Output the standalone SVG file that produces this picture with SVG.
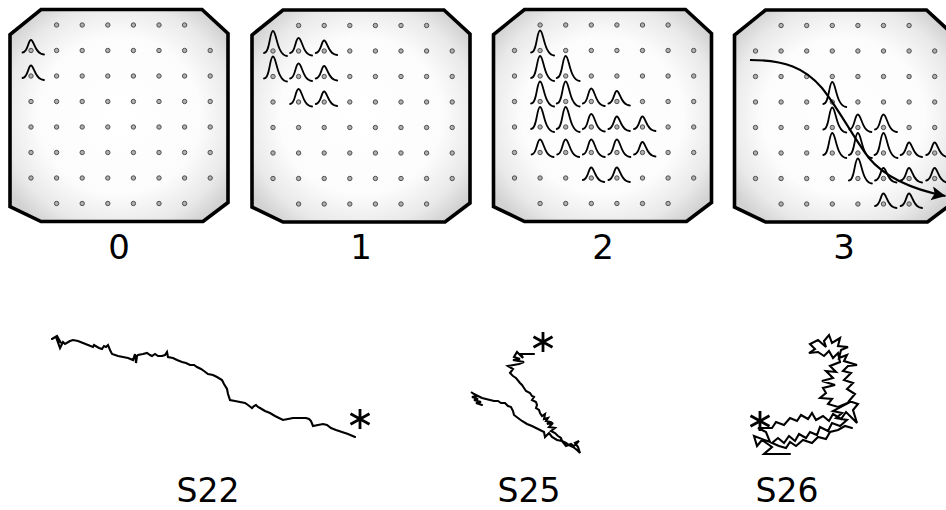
<svg xmlns="http://www.w3.org/2000/svg" width="946" height="510" viewBox="0 0 946 510">
  <style>
    .frame { fill: url(#shade); stroke: #000; stroke-width: 3.6; stroke-linejoin: miter; }
    .dot { fill: #b0b0b0; stroke: #505050; stroke-width: 1; }
    .bell { fill: none; stroke: #000; stroke-width: 1.8; stroke-linecap: round; }
    .walk { fill: none; stroke: #000; stroke-width: 2.1; stroke-linejoin: miter; stroke-miterlimit: 3; stroke-linecap: round; }
    .star { fill: none; stroke: #000; stroke-width: 2.8; stroke-linecap: butt; }
    .flow { fill: none; stroke: #000; stroke-width: 2.1; }
    .lbl { font-family: "DejaVu Sans", Verdana, sans-serif; font-size: 34px; fill: #000; text-anchor: middle; }
    .sub { font-size: 33px; }
  </style>
  <defs>
    <radialGradient id="shade" cx="50%" cy="50%" r="62%">
      <stop offset="0" stop-color="#ffffff"/>
      <stop offset="0.6" stop-color="#fcfcfc"/>
      <stop offset="0.85" stop-color="#e9e9e9"/>
      <stop offset="1" stop-color="#d2d2d2"/>
    </radialGradient>
    <!-- chamfered panel outline -->
    <path id="octa" d="M31,0 H192 L218,24 V193 L193,212 H31 L0,197 V25 Z"/>
    <!-- grid rows -->
    <g id="row8">
      <circle class="dot" cx="21" cy="0" r="2.2"/>
      <circle class="dot" cx="46.6" cy="0" r="2.2"/>
      <circle class="dot" cx="72.2" cy="0" r="2.2"/>
      <circle class="dot" cx="97.8" cy="0" r="2.2"/>
      <circle class="dot" cx="123.4" cy="0" r="2.2"/>
      <circle class="dot" cx="149" cy="0" r="2.2"/>
      <circle class="dot" cx="174.6" cy="0" r="2.2"/>
      <circle class="dot" cx="200.2" cy="0" r="2.2"/>
    </g>
    <g id="row6">
      <circle class="dot" cx="46.6" cy="0" r="2.2"/>
      <circle class="dot" cx="72.2" cy="0" r="2.2"/>
      <circle class="dot" cx="97.8" cy="0" r="2.2"/>
      <circle class="dot" cx="123.4" cy="0" r="2.2"/>
      <circle class="dot" cx="149" cy="0" r="2.2"/>
      <circle class="dot" cx="174.6" cy="0" r="2.2"/>
    </g>
    <g id="grid">
      <use href="#row6" y="15.5"/>
      <use href="#row8" y="41"/>
      <use href="#row8" y="66.5"/>
      <use href="#row8" y="92"/>
      <use href="#row8" y="117.5"/>
      <use href="#row8" y="143"/>
      <use href="#row8" y="168.5"/>
      <use href="#row6" y="194"/>
    </g>
    <!-- bell curves: tall, medium, short -->
    <path id="bT" class="bell" d="M-9,2 C-3,2 -3.5,-20 0,-20 C3.5,-20 4,4.5 14,5"/>
    <path id="bM" class="bell" d="M-8.5,2 C-3,2 -3.5,-13 0,-13 C3.5,-13 4,4 13.5,4.5"/>
    <path id="bS" class="bell" d="M-8.5,2 C-3,2 -3,-10.5 0,-10.5 C3,-10.5 4,4 13,4"/>
    <!-- end marker of a track -->
    <path id="ast" class="star" d="M0,-10 V10 M-9.5,-5.2 L9.5,5.2 M-9.5,5.2 L9.5,-5.2"/>
    <marker id="head" markerWidth="18" markerHeight="18" refX="14" refY="7" orient="auto" markerUnits="userSpaceOnUse">
      <path d="M0,0 L14,7 L0,14 L3,7 Z" fill="#000"/>
    </marker>
  </defs>

  <rect width="946" height="510" fill="#fff"/>

  <!-- step 0 -->
  <g id="panel0" transform="translate(10,9.5)">
    <use href="#octa" class="frame"/>
    <use href="#grid"/>
    <use href="#bS" x="21" y="41"/>
    <use href="#bS" x="21" y="66.5"/>
  </g>
  <text class="lbl" x="119" y="259">0</text>

  <!-- step 1 -->
  <g id="panel1" transform="translate(252,10)">
    <use href="#octa" class="frame"/>
    <use href="#grid"/>
    <use href="#bT" x="21" y="41"/>
    <use href="#bM" x="46.6" y="41"/>
    <use href="#bS" x="72.2" y="41"/>
    <use href="#bT" x="21" y="66.5"/>
    <use href="#bM" x="46.6" y="66.5"/>
    <use href="#bS" x="72.2" y="66.5"/>
    <use href="#bM" x="46.6" y="92"/>
    <use href="#bS" x="72.2" y="92"/>
  </g>
  <text class="lbl" x="361" y="259">1</text>

  <!-- step 2 -->
  <g id="panel2" transform="translate(493.5,9.5)">
    <use href="#octa" class="frame"/>
    <use href="#grid"/>
    <use href="#bT" x="46.6" y="41"/>
    <use href="#bT" x="46.6" y="66.5"/>
    <use href="#bT" x="72.2" y="66.5"/>
    <use href="#bT" x="46.6" y="92"/>
    <use href="#bT" x="72.2" y="92"/>
    <use href="#bM" x="97.8" y="92"/>
    <use href="#bS" x="123.4" y="92"/>
    <use href="#bT" x="46.6" y="117.5"/>
    <use href="#bT" x="72.2" y="117.5"/>
    <use href="#bM" x="97.8" y="117.5"/>
    <use href="#bS" x="123.4" y="117.5"/>
    <use href="#bS" x="149" y="117.5"/>
    <use href="#bM" x="46.6" y="143"/>
    <use href="#bM" x="72.2" y="143"/>
    <use href="#bM" x="97.8" y="143"/>
    <use href="#bM" x="123.4" y="143"/>
    <use href="#bS" x="149" y="143"/>
    <use href="#bS" x="97.8" y="168.5"/>
    <use href="#bS" x="123.4" y="168.5"/>
  </g>
  <text class="lbl" x="603" y="259">2</text>

  <!-- step 3 -->
  <g id="panel3" transform="translate(734.5,10)">
    <use href="#octa" class="frame"/>
    <use href="#grid"/>
    <use href="#bT" x="97.8" y="92"/>
    <use href="#bT" x="97.8" y="117.5"/>
    <use href="#bM" x="123.4" y="117.5"/>
    <use href="#bM" x="149" y="117.5"/>
    <use href="#bT" x="97.8" y="143"/>
    <use href="#bT" x="123.4" y="143"/>
    <use href="#bT" x="149" y="143"/>
    <use href="#bS" x="174.6" y="143"/>
    <use href="#bS" x="200.2" y="143"/>
    <use href="#bT" x="123.4" y="168.5"/>
    <use href="#bS" x="149" y="168.5"/>
    <use href="#bS" x="174.6" y="168.5"/>
    <use href="#bS" x="200.2" y="168.5"/>
    <use href="#bS" x="149" y="194"/>
    <use href="#bS" x="174.6" y="194"/>
    <path class="flow" marker-end="url(#head)" d="M15.5,50 C50.5,50 70.5,58 87.5,78 C103.5,98 117.5,125 133.5,147 C147.5,164 170.5,178 211,186"/>
  </g>
  <text class="lbl" x="844" y="259">3</text>

  <!-- track S22 -->
  <g id="trackS22">
    <path class="walk" d="M52,339 L57,336 L61,343 L56,337 L60,348 L63,342 L65,344 L70,341 L73,340 L78,341 L83,343 L88,345 L93,347 L94,345 L99,348 L102,349 L104,346 L106,347 L108,345 L110,350 L112,354 L118,356 L123,357 L128,358 L133,360 L135,354 L136,363 L137,356 L138,355 L143,354 L147,353 L150,355 L152,356 L155,354 L158,356 L162,356 L165,355 L167,352 L168,357 L173,358 L177,360 L182,362 L186,363 L190,365 L194,365 L197,367 L201,369 L204,371 L208,374 L213,375 L217,377 L222,380 L224,384 L227,389 L228,394 L230,400 L235,401 L240,402 L245,403 L248,405 L252,408 L254,406 L256,405 L258,407 L260,408 L265,411 L270,413 L275,416 L279,418 L283,420 L288,419 L293,418 L300,418 L306,418 L309,419 L311,421 L313,426 L318,425 L323,424 L327,425 L331,428 L336,430 L342,432 L348,434 L355,437"/>
    <use href="#ast" x="360" y="419"/>
  </g>
  <text class="lbl sub" x="208" y="502">S22</text>

  <!-- track S25 -->
  <g id="trackS25">
    <path class="walk" d="M534,354 L521,354 L523,358 L517,352 L514,357 L520,359 L513,360 L524,362 L519,364 L508,366 L513,369 L510,373 L513,376 L516,378 L520,383 L522,385 L524,388 L526,391 L530,393 L532,396 L534,397 L532,400 L536,402 L537,405 L536,408 L539,410 L540,413 L542,416 L545,414 L544,419 L548,418 L546,421 L550,422 L547,424 L553,423 L549,427 L555,428 L551,431 L555,433 L558,436 L561,438 L562,441 L566,443 L569,445 L573,447 L577,450 L580,453 L578,447 L575,443 L579,441 L574,446 L571,444 L566,446 L562,441 L557,440 L552,437 L549,433 L545,437 L544,432 L540,430 L536,428 L532,426 L527,424 L522,421 L518,418 L514,415 L513,411 L511,407 L508,406 L505,403 L501,403 L498,401 L494,401 L490,400 L486,399 L482,398 L478,396 L474,394 L471,392 L477,396 L472,397 L478,399 L474,400 L481,402 L476,403 L482,405"/>
    <use href="#ast" x="543" y="342"/>
  </g>
  <text class="lbl sub" x="529" y="502">S25</text>

  <!-- track S26 -->
  <g id="trackS26">
    <path class="walk" d="M790,454 L764,454 L772,447 L762,440 L757,446 L754,436 L770,442 L766,432 L758,428 L772,428 L776,422 L784,425 L790,418 L797,421 L801,415 L808,419 L812,413 L816,420 L823,416 L829,421 L833,414 L841,419 L846,412 L852,418 L857,423 L853,410 L858,404 L849,401 L855,394 L847,389 L853,383 L844,380 L851,373 L843,371 L848,366 L857,365 L844,361 L847,355 L839,358 L841,350 L848,347 L838,346 L840,338 L832,343 L829,335 L824,341 L826,347 L818,340 L810,344 L815,349 L809,353 L818,352 L824,356 L829,351 L833,358 L838,353 L840,362 L830,366 L836,372 L826,371 L833,378 L822,381 L835,385 L823,388 L826,393 L820,398 L832,399 L828,404 L838,407 L850,402 L833,411 L842,413 L836,418 L847,420 L840,426 L832,423 L828,431 L820,427 L817,435 L810,432 L806,438 L799,434 L795,441 L789,436 L784,443 L778,438 L772,443 L779,446 L786,448 L790,442 L796,446 L803,440 L812,443 L818,437 L826,439 L830,432 L838,430 L845,426 L852,428"/>
    <use href="#ast" x="760" y="421"/>
  </g>
  <text class="lbl sub" x="787" y="502">S26</text>
</svg>
